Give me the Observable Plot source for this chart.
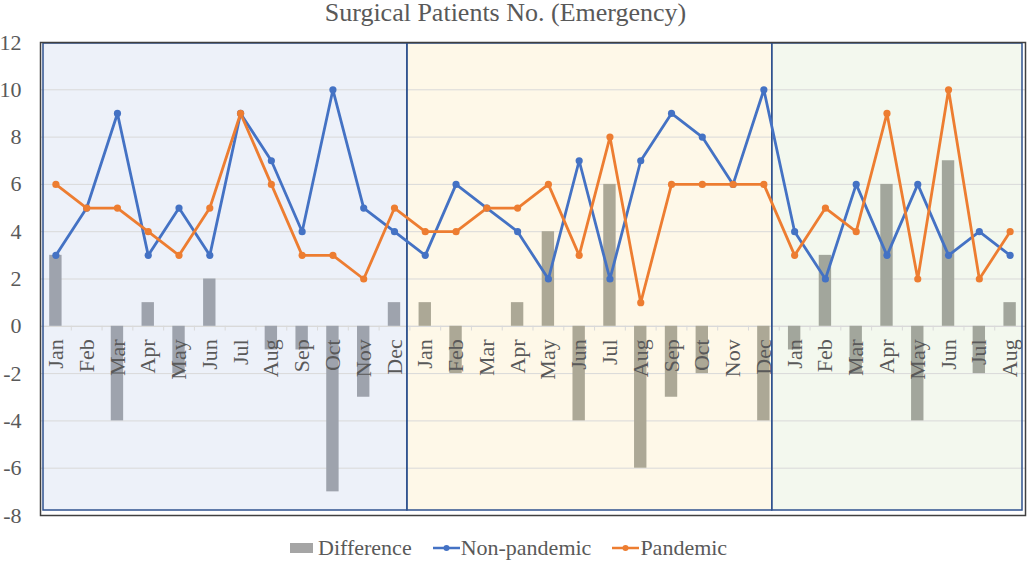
<!DOCTYPE html>
<html>
<head>
<meta charset="utf-8">
<script src="https://cdn.jsdelivr.net/npm/d3@7"></script>
<script src="https://cdn.jsdelivr.net/npm/@observablehq/plot@0.6"></script>
<style>
  body { margin: 0; background: #fff; }
  #wrap { position: relative; width: 1028px; height: 562px; font-family: "Liberation Serif", "Times New Roman", serif; color: #595959; }
  #title { position: absolute; top: 0; left: 0; width: 1011px; text-align: center; font-size: 26px; line-height: 26px; white-space: nowrap; }
  #chart { position: absolute; top: 0; left: 0; }
  #legend { position: absolute; top: 537px; left: 290px; display: flex; align-items: center; gap: 21px; font-size: 22px; line-height: 22px; white-space: nowrap; }
  .item { display: flex; align-items: center; }
  .item svg { display: block; }
</style>
</head>
<body>
<div id="wrap">
  <div id="chart"></div>
  <div id="title">Surgical Patients No. (Emergency)</div>
  <div id="legend"></div>
</div>
<script>
// ---- Data ----
const months1 = ["Jan","Feb","Mar","Apr","May","Jun","Jul","Aug","Sep","Oct","Nov","Dec"];
const nonPandemic1 = [3, 5, 9, 3, 5, 3, 9, 7, 4, 10, 5, 4];
const pandemic1    = [6, 5, 5, 4, 3, 5, 9, 6, 3, 3, 2, 5];
const difference1  = [3, 0, -4, 1, -2, 2, 0, -1, -1, -7, -3, 1];

const months2 = ["Jan","Feb","Mar","Apr","May","Jun","Jul","Aug","Sep","Oct","Nov","Dec"];
const nonPandemic2 = [3, 6, 5, 4, 2, 7, 2, 7, 9, 8, 6, 10];
const pandemic2    = [4, 4, 5, 5, 6, 3, 8, 1, 6, 6, 6, 6];
const difference2  = [1, -2, 0, 1, 4, -4, 6, -6, -3, -2, 0, -4];

const months3 = ["Jan","Feb","Mar","Apr","May","Jun","Jul","Aug"];
const nonPandemic3 = [4, 2, 6, 3, 6, 3, 4, 3];
const pandemic3    = [3, 5, 4, 9, 2, 10, 2, 4];
const difference3  = [-1, 3, -2, 6, -4, 7, -2, 1];

const yTicks = [-8, -6, -4, -2, 0, 2, 4, 6, 8, 10, 12];
const yDomain = [-8, 12];

const seriesNames = ["Difference", "Non-pandemic", "Pandemic"];
const blue = "#4472C4", orange = "#ED7D31", gray = "#A5A5A5";
const panelFills = ["#EDF1F9", "#FEF8E8", "#F3F8EE"];
const barFills = ["#9EA3AD", "#ACA896", "#A2A69C"];

// ---- Table ----
const rows = [];
[[months1, nonPandemic1, pandemic1, difference1],
 [months2, nonPandemic2, pandemic2, difference2],
 [months3, nonPandemic3, pandemic3, difference3]].forEach((p, k) => {
  p[0].forEach((m, j) => rows.push({i: rows.length, panel: k, month: m, np: p[1][j], pd: p[2][j], diff: p[3][j]}));
});
const panels = panelFills.map((fill, k) => {
  const r = rows.filter(d => d.panel === k);
  return {k, fill, a: r[0].i - 0.5, b: r[r.length - 1].i + 0.5};
});
const panelInsets = [[3, 2.5], [-2.5, 7], [-7, 3]];

const marks = [];
panels.forEach((p, k) => {
  marks.push(Plot.rect([p], {x1: "a", x2: "b", y1: yDomain[0], y2: yDomain[1], fill: p.fill,
    insetLeft: panelInsets[k][0], insetRight: panelInsets[k][1], insetTop: 1, insetBottom: 5}));
});
marks.push(Plot.ruleY(yTicks, {stroke: "#D9D9D9", strokeWidth: 1}));
marks.push(Plot.ruleY([0], {stroke: "#D9D9D9", strokeWidth: 1.2}));
marks.push(Plot.ruleX(rows.slice(0, -1), {x: d => d.i + 0.5, y1: 0, y2: -0.2, stroke: "#D9D9D9", strokeWidth: 1}));
panels.forEach((p, k) => {
  marks.push(Plot.rect(rows.filter(d => d.panel === k), {x1: d => d.i - 0.5, x2: d => d.i + 0.5, y1: 0, y2: "diff",
    fill: barFills[k], insetLeft: 9.2, insetRight: 9.2}));
});
marks.push(Plot.text(rows, {x: "i", y: 0, text: "month", rotate: -90, textAnchor: "end", lineAnchor: "middle",
  dy: 13, fontSize: 22, fill: "#595959"}));
panels.forEach((p, k) => {
  marks.push(Plot.rect([p], {x1: "a", x2: "b", y1: yDomain[0], y2: yDomain[1], fill: "none", stroke: "#2F528F", strokeWidth: 1.5,
    insetLeft: panelInsets[k][0], insetRight: panelInsets[k][1], insetTop: 1, insetBottom: 5}));
});
marks.push(Plot.line(rows, {x: "i", y: "np", stroke: blue, strokeWidth: 2.8}));
marks.push(Plot.dot(rows, {x: "i", y: "np", fill: blue, r: 3.6}));
marks.push(Plot.line(rows, {x: "i", y: "pd", stroke: orange, strokeWidth: 2.8}));
marks.push(Plot.dot(rows, {x: "i", y: "pd", fill: orange, r: 3.6}));
marks.push(Plot.frame({stroke: "#404040", strokeWidth: 1.5}));
marks.push(Plot.text(yTicks, {y: d => d, text: d => String(d), frameAnchor: "left", textAnchor: "end", lineAnchor: "middle",
  dx: -19, fontSize: 22, fill: "#595959"}));

const chart = Plot.plot({
  width: 1028,
  height: 562,
  marginTop: 42,
  marginBottom: 47,
  marginLeft: 40,
  marginRight: 3,
  style: {fontFamily: "'Liberation Serif', 'Times New Roman', serif", background: "transparent", overflow: "visible"},
  x: {domain: [-0.5, rows.length - 0.5], axis: null},
  y: {domain: yDomain, axis: null},
  marks
});
document.getElementById("chart").appendChild(chart);

// ---- Legend ----
const legend = document.getElementById("legend");
const swatches = [
  `<svg width="23" height="10"><rect width="23" height="10" fill="${gray}"/></svg>`,
  `<svg width="27" height="10"><line x1="0" y1="5" x2="27" y2="5" stroke="${blue}" stroke-width="2.5"/><circle cx="13.5" cy="5" r="3" fill="${blue}"/></svg>`,
  `<svg width="27" height="10"><line x1="0" y1="5" x2="27" y2="5" stroke="${orange}" stroke-width="2.5"/><circle cx="13.5" cy="5" r="3" fill="${orange}"/></svg>`
];
seriesNames.forEach((name, k) => {
  const el = document.createElement("div");
  el.className = "item";
  el.innerHTML = swatches[k] + `<span style="margin-left:${k === 0 ? 5 : 1}px">${name}</span>`;
  legend.appendChild(el);
});
</script>
</body>
</html>
